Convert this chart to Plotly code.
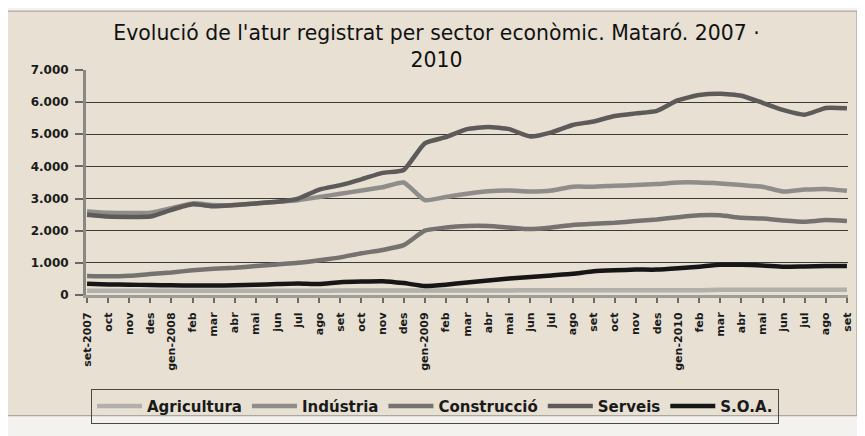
import plotly.graph_objects as go

months = ["set-2007", "oct", "nov", "des", "gen-2008", "feb", "mar", "abr", "mai", "jun", "jul", "ago",
          "set", "oct", "nov", "des", "gen-2009", "feb", "mar", "abr", "mai", "jun", "jul", "ago",
          "set", "oct", "nov", "des", "gen-2010", "feb", "mar", "abr", "mai", "jun", "jul", "ago", "set"]

agricultura = [130, 130, 130, 130, 130, 130, 130, 130, 130, 130, 130, 130,
               140, 140, 140, 140, 140, 140, 140, 140, 140, 150, 150, 150,
               150, 150, 150, 150, 150, 150, 160, 160, 160, 160, 160, 160, 160]
industria = [2600, 2560, 2550, 2560, 2700, 2850, 2800, 2800, 2850, 2900, 2950, 3050,
             3150, 3250, 3350, 3500, 2950, 3050, 3150, 3230, 3250, 3220, 3250, 3370,
             3370, 3400, 3420, 3450, 3500, 3500, 3470, 3420, 3370, 3220, 3280, 3300, 3240]
construccio = [590, 580, 600, 650, 700, 770, 820, 850, 900, 950, 1000, 1080,
               1170, 1300, 1400, 1550, 2000, 2100, 2150, 2150, 2100, 2050, 2100, 2180,
               2220, 2250, 2300, 2350, 2420, 2480, 2480, 2400, 2380, 2320, 2280, 2330, 2300]
serveis = [2500, 2440, 2430, 2440, 2650, 2820, 2760, 2800, 2850, 2900, 3000, 3280,
           3420, 3600, 3800, 3890, 4720, 4910, 5160, 5230, 5160, 4930, 5060, 5290,
           5400, 5570, 5650, 5730, 6060, 6220, 6260, 6200, 5980, 5750, 5610, 5820, 5810]
soa = [350, 330, 320, 310, 300, 295, 295, 300, 320, 340, 360, 340,
       400, 420, 430, 370, 280, 320, 390, 450, 510, 560, 610, 660,
       740, 770, 790, 790, 830, 880, 940, 940, 920, 880, 890, 900, 900]

series = [
    ("Agricultura", agricultura, "#b2b0ab"),
    ("Indústria", industria, "#8e8d8a"),
    ("Construcció", construccio, "#747370"),
    ("Serveis", serveis, "#5c5b59"),
    ("S.O.A.", soa, "#161616"),
]

x = list(range(len(months)))
fig = go.Figure()
for name, vals, col in series:
    fig.add_trace(go.Scatter(x=x, y=vals, name=name, mode="lines",
                             line=dict(color=col, width=4.5, shape="spline", smoothing=0.5)))

# the page body adds an 8px offset; the figure fills the rest of the window
OFF = 8
FW, FH = 865 - OFF, 436 - OFF
beige = "#e7e0d3"
L, T = 86 - OFF, 70 - OFF
R = FW - (848 - OFF)
B = FH - (303 - OFF)
W, H = FW - L - R, FH - T - B

def px_x(p):
    return (p - OFF - L) / W

def px_y(p):
    return (FH - B - (p - OFF)) / H

fig.add_shape(type="rect", xref="paper", yref="paper",
              x0=px_x(5), x1=px_x(857), y0=px_y(428), y1=px_y(9),
              fillcolor=beige, line=dict(color="#9a9892", width=1), layer="below")

fig.update_layout(
    width=FW, height=FH,
    margin=dict(l=L, r=R, t=T, b=B),
    paper_bgcolor="#f3f2ef",
    plot_bgcolor="rgba(0,0,0,0)",
    separators=",.",
    font=dict(family="DejaVu Sans", color="#1a1a1a"),
    title=dict(text="Evolució de l'atur registrat per sector econòmic. Mataró. 2007 ·<br>2010",
               x=(436.5 - OFF) / FW, xref="container", xanchor="center",
               y=1 - (40 - OFF) / FH, yref="container", yanchor="top",
               font=dict(family="DejaVu Sans", size=20.4, color="#111111")),
    xaxis=dict(range=[-0.05, 36.05], tickmode="array", tickvals=x, ticktext=months,
               tickangle=-90, showgrid=False, zeroline=False,
               showline=True, linecolor="#a09e99", linewidth=3,
               ticks="outside", ticklen=5, tickwidth=2, tickcolor="#6a6966",
               ticklabelstandoff=5,
               tickfont=dict(family="DejaVu Sans", size=11, color="#1a1a1a", weight="bold")),
    yaxis=dict(range=[0, 7000], dtick=1000, tickformat=",d",
               showgrid=True, gridcolor="#3a3936", gridwidth=1, zeroline=False,
               showline=True, linecolor="#8a8884", linewidth=3,
               ticks="outside", ticklen=8, tickwidth=2, tickcolor="#6a6966",
               ticklabelstandoff=4,
               tickfont=dict(family="DejaVu Sans", size=12, color="#1a1a1a", weight="bold")),
    legend=dict(orientation="h", x=px_x(91), xanchor="left", y=px_y(400), yanchor="top",
                bgcolor="rgba(0,0,0,0)", bordercolor="#4a4946", borderwidth=1,
                font=dict(family="DejaVu Sans", size=15, color="#1a1a1a", weight="bold"),
                tracegroupgap=0, itemwidth=45),
    showlegend=True,
)

fig.write_html("out.html")
